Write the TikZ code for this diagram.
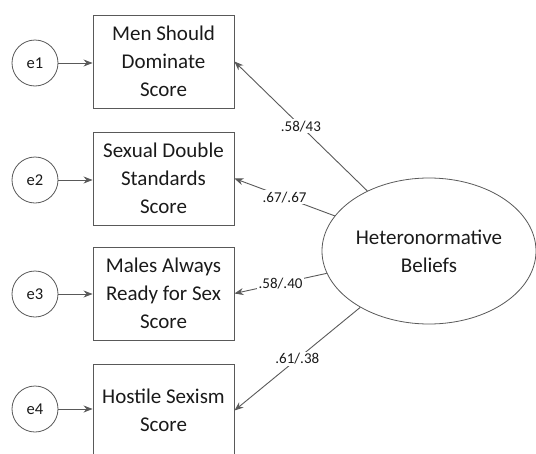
\documentclass[tikz,border=0pt]{standalone}
\usepackage{fontspec}
\setmainfont{Carlito}
\usetikzlibrary{shapes.geometric,arrows.meta}
\definecolor{linegray}{HTML}{595959}
\definecolor{txt}{HTML}{1A1A1A}
\begin{document}
\begin{tikzpicture}[x=1pt,y=-1pt,
  obsbox/.style={draw=linegray, line width=0.9pt, minimum width=141pt, minimum height=93pt, inner sep=0pt, align=center, text=txt, font=\fontsize{21}{28}\selectfont},
  errc/.style={draw=linegray, line width=0.8pt, circle, minimum size=46pt, inner sep=0pt, text=txt, font=\fontsize{16.5}{18}\selectfont},
  latent/.style={draw=linegray, line width=0.8pt, ellipse, minimum width=214pt, minimum height=146pt, inner sep=0pt, align=center, text=txt, font=\fontsize{21}{28}\selectfont},
  arr/.style={draw=linegray, line width=0.9pt, -{Stealth[length=9pt,width=7pt]}},
  lbl/.style={fill=white, inner sep=1.5pt, text=txt, font=\fontsize{15}{17}\selectfont}
]
\useasboundingbox (0,0) rectangle (536,453);
\clip (0,0) rectangle (536,453);
\node[obsbox] (b1) at (163.5,61.5) {Men Should\\Dominate\\Score};
\node[obsbox] (b2) at (163.5,178.5) {Sexual Double\\Standards\\Score};
\node[obsbox] (b3) at (163.5,293.5) {Males Always\\Ready for Sex\\Score};
\node[obsbox] (b4) at (163.5,410.5) {Hostile Sexism\\Score};
\node[errc] (e1) at (35,63) {e1};
\node[errc] (e2) at (35,180) {e2};
\node[errc] (e3) at (35,294) {e3};
\node[errc] (e4) at (35,409) {e4};
\node[latent] (hb) at (429,251) {Heteronormative\\Beliefs};
\draw[arr] (e1) -- (b1.west |- e1);
\draw[arr] (e2) -- (b2.west |- e2);
\draw[arr] (e3) -- (b3.west |- e3);
\draw[arr] (e4) -- (b4.west |- e4);
\draw[arr] (hb) -- node[lbl, midway] {.58/43} (b1.east);
\draw[arr] (hb) -- node[lbl, midway] {.67/.67} (b2.east);
\draw[arr] (hb) -- node[lbl, midway] {.58/.40} (b3.east);
\draw[arr] (hb) -- node[lbl, midway] {.61/.38} (b4.east);
\end{tikzpicture}
\end{document}
